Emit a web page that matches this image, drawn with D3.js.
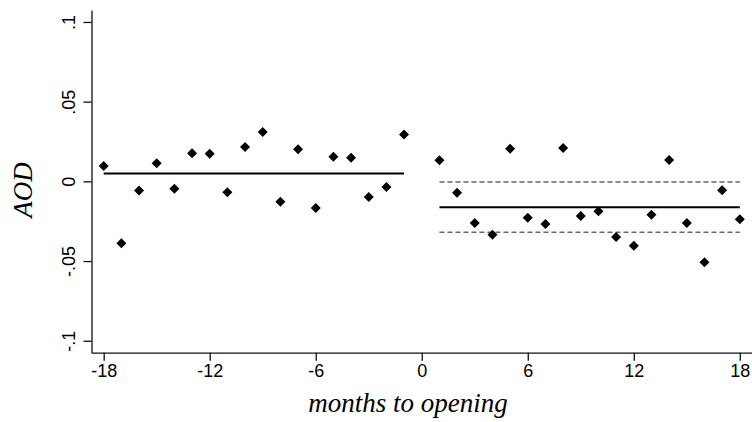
<!DOCTYPE html>
<html>
<head>
<meta charset="utf-8">
<script src="https://cdn.jsdelivr.net/npm/d3@7"></script>
<style>
  html, body { margin: 0; padding: 0; background: #fff; }
  svg { display: block; }
</style>
</head>
<body>
<svg id="chart" width="752" height="422"></svg>
<script>
// ---- data ----
const months = [-18,-17,-16,-15,-14,-13,-12,-11,-10,-9,-8,-7,-6,-5,-4,-3,-2,-1,
                1,2,3,4,5,6,7,8,9,10,11,12,13,14,15,16,17,18];
const aod = [0.0096,-0.0389,-0.0057,0.0113,-0.0046,0.0176,0.0173,-0.0069,0.0215,0.0309,
             -0.0128,0.0201,-0.0167,0.0154,0.0148,-0.0098,-0.0035,0.0294,
             0.0132,-0.0071,-0.0262,-0.0335,0.0205,-0.0228,-0.0268,0.0209,-0.0218,-0.0188,
             -0.0349,-0.0404,-0.0209,0.0134,-0.0262,-0.0508,-0.0056,-0.0237];
const preRange = [-18, -1];
const preMean = 0.005;
const postRange = [1, 18];
const postMean = -0.0163;
const postUpper = -0.0004;
const postLower = -0.032;
const xTicks = [-18,-12,-6,0,6,12,18];
const xTickLabels = ["-18","-12","-6","0","6","12","18"];
const yTicks = [-0.1,-0.05,0,0.05,0.1];
const yTickLabels = ["-.1","-.05","0",".05",".1"];

// ---- chart ----
const svg = d3.select("#chart");
const x = d3.scaleLinear().domain([-18.69, 18.69]).range([91.5, 752]);
const y = d3.scaleLinear().domain([-0.1075, 0.1075]).range([352.7, 10]);

const axisColor = "#111";

// x axis
const gx = svg.append("g").attr("transform", `translate(0,${y.range()[0]})`)
  .call(d3.axisBottom(x).tickValues(xTicks).tickSize(8).tickPadding(4).tickSizeOuter(0)
        .tickFormat((d, i) => xTickLabels[i]));
gx.select(".domain").attr("stroke", axisColor).attr("stroke-width", 1.3);
gx.selectAll(".tick line").attr("stroke", axisColor).attr("stroke-width", 1.3);
gx.selectAll(".tick text").attr("fill", "#000")
  .style("font-family", "'Liberation Sans', Arial, sans-serif").style("font-size", "18px");

// y axis
const gy = svg.append("g").attr("transform", `translate(${x.range()[0]},0)`)
  .call(d3.axisLeft(y).tickValues(yTicks).tickSize(8).tickSizeOuter(0)
        .tickFormat((d, i) => yTickLabels[i]));
gy.select(".domain").attr("stroke", axisColor).attr("stroke-width", 1.3);
gy.selectAll(".tick line").attr("stroke", axisColor).attr("stroke-width", 1.3);
gy.selectAll(".tick text")
  .attr("transform", "rotate(-90)")
  .attr("x", 0).attr("y", -17).attr("dy", 0)
  .attr("text-anchor", "middle").attr("fill", "#000")
  .style("font-family", "'Liberation Sans', Arial, sans-serif").style("font-size", "18px");

// fit lines
svg.append("line")
  .attr("x1", x(preRange[0])).attr("x2", x(preRange[1]))
  .attr("y1", y(preMean)).attr("y2", y(preMean))
  .attr("stroke", "#000").attr("stroke-width", 2);
svg.append("line")
  .attr("x1", x(postRange[0])).attr("x2", x(postRange[1]))
  .attr("y1", y(postMean)).attr("y2", y(postMean))
  .attr("stroke", "#000").attr("stroke-width", 2);
[postUpper, postLower].forEach(v => {
  svg.append("line")
    .attr("x1", x(postRange[0])).attr("x2", x(postRange[1]))
    .attr("y1", y(v)).attr("y2", y(v))
    .attr("stroke", "#666").attr("stroke-width", 1.5)
    .attr("stroke-dasharray", "5,3");
});

// diamonds
const r = 5;
svg.append("g").selectAll("path").data(months.map((m, i) => [m, aod[i]]))
  .join("path")
  .attr("d", `M0,${-r}L${r},0L0,${r}L${-r},0Z`)
  .attr("transform", d => `translate(${x(d[0])},${y(d[1])})`)
  .attr("fill", "#000");

// axis titles
svg.append("text")
  .attr("x", 408).attr("y", 412)
  .attr("text-anchor", "middle")
  .style("font-family", "'Liberation Serif', 'Times New Roman', serif")
  .style("font-style", "italic").style("font-size", "27px")
  .text("months to opening");

svg.append("text")
  .attr("transform", "translate(32,190) rotate(-90)")
  .attr("text-anchor", "middle")
  .style("font-family", "'Liberation Serif', 'Times New Roman', serif")
  .style("font-style", "italic").style("font-size", "27px")
  .text("AOD");
</script>
</body>
</html>
